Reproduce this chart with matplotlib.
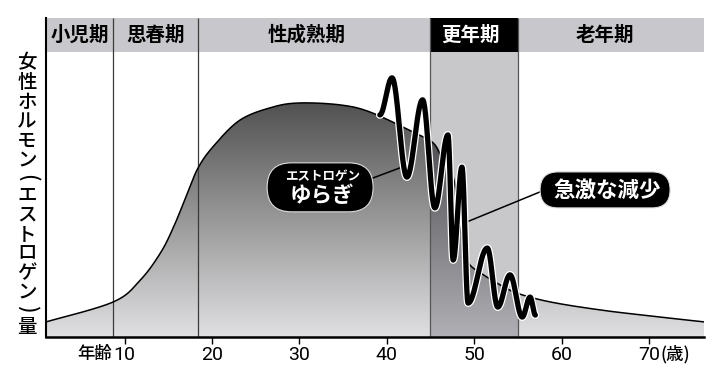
import numpy as np
import matplotlib
matplotlib.use("Agg")
import matplotlib.pyplot as plt
from matplotlib.patches import Rectangle, FancyBboxPatch, Polygon
from matplotlib.transforms import IdentityTransform, blended_transform_factory
import matplotlib.patheffects as pe

plt.rcParams['font.family'] = ['Noto Sans CJK JP', 'DejaVu Sans']

# ---------------- data ----------------
curve_age = [1.0, 8.7, 11.8, 14.1, 15.6, 17.2, 18.4, 20.1, 23.2, 27.0, 30.1, 34.7,
             38.1, 43.0, 45.3, 46.3, 47.3, 47.8, 48.4, 49.0, 49.5, 50.7, 52.6,
             54.9, 58.7, 64.4, 70.1, 76.3]
curve_level = [5.3, 12.3, 20.0, 29.5, 38.6, 50.5, 59.3, 66.7, 76.1, 80.7, 82.1, 81.4,
               78.9, 71.9, 68.1, 62.8, 58.0, 53.3, 39.3, 28.8, 25.3, 22.5, 18.9,
               15.4, 12.3, 9.5, 7.4, 5.3]

wave_age = [39.2, 40.6, 42.3, 44.1, 45.5, 47.0, 47.6, 48.6, 49.3, 51.5, 52.7,
            54.1, 55.5, 56.4, 57.0]
wave_level = [77.9, 90.9, 56.1, 83.2, 45.3, 70.9, 27.0, 59.6, 11.9, 31.2, 10.5,
              21.8, 7.0, 14.0, 7.7]

stage_names = ['小児期', '思春期', '性成熟期', '更年期', '老年期']
stage_bounds = [1.0, 8.7, 18.4, 45.0, 55.0, 76.3]
stage_label_age = [4.9, 13.55, 30.8, 49.6, 65.0]

tick_ages = [10, 20, 30, 40, 50, 60, 70]
tick_labels = ['10', '20', '30', '40', '50', '60', '70']

ylabel_text = '女性ホルモン(エストロゲン)量'
callout1_lines = ['エストロゲン', 'ゆらぎ']
callout2_text = '急激な減少'

# --------------- helpers ---------------
SX, SY = 8.74, 2.85  # approx pixel per unit, for smooth parametrisation


def smooth(xs, ys, n=24):
    P = np.column_stack([np.asarray(xs) * SX, np.asarray(ys) * SY])
    P = np.vstack([P[0], P, P[-1]])
    out = []
    for i in range(1, len(P) - 2):
        p0, p1, p2, p3 = P[i - 1], P[i], P[i + 1], P[i + 2]
        t = np.linspace(0, 1, n, endpoint=False)[:, None]
        pts = 0.5 * ((2 * p1) + (-p0 + p2) * t + (2 * p0 - 5 * p1 + 4 * p2 - p3) * t ** 2
                     + (-p0 + 3 * p1 - 3 * p2 + p3) * t ** 3)
        out.append(pts)
    out.append(P[-2][None])
    Q = np.vstack(out)
    return Q[:, 0] / SX, Q[:, 1] / SY


def wave(xs, ys, n=30):
    X, Y = [], []
    for i in range(len(xs) - 1):
        t = np.linspace(0, 1, n, endpoint=False)
        X.append(xs[i] + (xs[i + 1] - xs[i]) * t)
        Y.append(ys[i] + (ys[i + 1] - ys[i]) * (1 - np.cos(np.pi * t)) / 2)
    X.append([xs[-1]]); Y.append([ys[-1]])
    return np.concatenate(X), np.concatenate(Y)


# --------------- figure ---------------
W, H = 714, 373
fig = plt.figure(figsize=(W / 100, H / 100), dpi=100)
ax = fig.add_axes([46 / W, (H - 337) / H, (704 - 46) / W, (337 - 18) / H])
x0, x1 = stage_bounds[0], stage_bounds[-1]
YTOP = 111.9
ax.set_xlim(x0, x1)
ax.set_ylim(0, YTOP)

# gradient fill under curve
cx, cy = smooth(curve_age, curve_level)
poly = Polygon(np.column_stack([np.r_[cx, x1, x0], np.r_[cy, 0, 0]]),
               closed=True, facecolor='none', edgecolor='none')
ax.add_patch(poly)
g = np.linspace(0, 1, 256)[:, None]
bottom = np.array([0xe0, 0xe0, 0xe2]) / 255
top = np.array([0x4e, 0x4e, 0x4e]) / 255
img = bottom[None, None, :] * (1 - g[..., None]) + top[None, None, :] * g[..., None]
im = ax.imshow(img, extent=[x0, x1, 0, 84], origin='lower', aspect='auto',
               interpolation='bilinear', zorder=1)
im.set_clip_path(poly)

# menopause band overlay
ax.add_patch(Rectangle((stage_bounds[3], 0), stage_bounds[4] - stage_bounds[3], 100,
                       facecolor=(0, 0, 0.07), alpha=0.215, edgecolor='none', zorder=2))

# header
ax.add_patch(Rectangle((x0, 100), x1 - x0, YTOP - 100, facecolor='#c8c8cc',
                       edgecolor='none', zorder=3))
ax.add_patch(Rectangle((stage_bounds[3], 100), stage_bounds[4] - stage_bounds[3],
                       YTOP - 100, facecolor='black', edgecolor='none', zorder=3.5))
for name, a in zip(stage_names, stage_label_age):
    ax.text(a, (100 + YTOP) / 2, name, ha='center', va='center', fontsize=14,
            fontweight='bold', color='white' if name == '更年期' else 'black', zorder=6)

# boundary lines
ax.vlines(stage_bounds[1:3], 0, YTOP, colors='#3a3a3a', linewidth=0.9, zorder=4)
ax.vlines(stage_bounds[3:5], 0, YTOP, colors='#555555', linewidth=0.9, zorder=4)

# main curve
ax.plot(cx, cy, color='black', linewidth=1.1, zorder=5, solid_capstyle='butt')

# callout pointer lines
ax.plot([38.43, 41.75], [55.8, 59.6], color='black', linewidth=1.1, zorder=5.5)
ax.plot([57.54, 49.19], [50.9, 40.4], color='black', linewidth=1.1, zorder=5.5)

# wave
wx, wy = wave(wave_age, wave_level)
ax.plot(wx, wy, color='black', linewidth=3.8, zorder=6, solid_capstyle='round',
        path_effects=[pe.Stroke(linewidth=5.6, foreground='white'), pe.Normal()])

# callout boxes (pixel sized)
fig.canvas.draw()


def callout(age, lvl, w, h):
    px, py = ax.transData.transform((age, lvl))
    p = FancyBboxPatch((px - w / 2, py - h / 2), w, h,
                       boxstyle=f'round,pad=0,rounding_size={h / 2}',
                       facecolor='black', edgecolor='#dddddd', linewidth=0.8,
                       transform=IdentityTransform(), zorder=7)
    ax.add_patch(p)
    return px, py


bx, by = callout(32.37, 52.5, 106, 49)
ax.text(bx + 2, by + 10.5, callout1_lines[0], transform=IdentityTransform(),
        ha='center', va='center', color='white', fontsize=9, fontweight='bold', zorder=8)
ax.text(bx + 2, by - 8.5, callout1_lines[1], transform=IdentityTransform(),
        ha='center', va='center', color='white', fontsize=15.5, fontweight='bold', zorder=8)
bx2, by2 = callout(64.98, 51.6, 130, 36)
ax.text(bx2 + 2, by2, callout2_text, transform=IdentityTransform(),
        ha='center', va='center', color='white', fontsize=15.5, fontweight='bold', zorder=8)

# axes styling
for s in ['top', 'right']:
    ax.spines[s].set_visible(False)
ax.spines['left'].set_linewidth(1.5)
ax.spines['bottom'].set_linewidth(1.8)
ax.spines['left'].set_zorder(9)
ax.spines['bottom'].set_zorder(9)
ax.set_yticks([])
ax.set_xticks(tick_ages)
ax.set_xticklabels(tick_labels, fontfamily=['Roboto', 'DejaVu Sans'], fontsize=14)
ax.tick_params(axis='x', direction='out', length=5, width=1, pad=1.5, color='black')

tr = blended_transform_factory(ax.transData, ax.transAxes)
yl = (337 - 354) / (337 - 18)
ax.text(6.6, yl, '年齢', transform=tr, ha='center', va='center', fontsize=12.5,
        fontweight='medium', clip_on=False)
ax.text(71.3, yl, '(歳)', transform=tr, ha='left', va='center', fontsize=12.5,
        fontweight='medium', clip_on=False)

# vertical y label (one character per row; brackets turned for vertical writing)
chars = list(ylabel_text)
weights = np.array([0.75 if c in '()' else 1.0 for c in chars])
cum = np.cumsum(weights) - weights / 2
ys = 63 + (cum - cum[0]) / (cum[-1] - cum[0]) * (327 - 63)
for ch, yy in zip(chars, ys):
    if ch in '()':
        fig.text(27 / W, 1 - yy / H, ch, ha='center', va='center', fontsize=15,
                 fontweight='medium', rotation=270, rotation_mode='default')
    else:
        fig.text(27 / W, 1 - yy / H, ch, ha='center', va='center', fontsize=14,
                 fontweight='medium')

fig.savefig('out.png', dpi=100)
